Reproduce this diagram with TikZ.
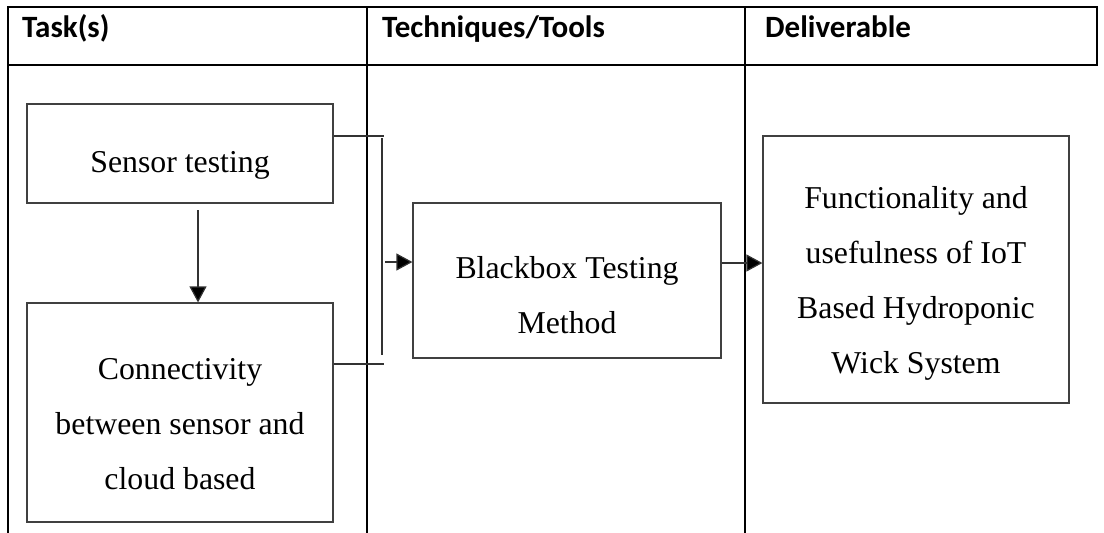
\documentclass[tikz,border=0pt]{standalone}
\usepackage{fontspec}
\setmainfont{Liberation Serif}
\newfontfamily\hdrfont{Carlito}
\usetikzlibrary{arrows.meta}
\begin{document}
\begin{tikzpicture}[x=1pt,y=-1pt,
  tbl/.style={line width=2pt,black},
  hdr/.style={anchor=base west,inner sep=0pt,font=\hdrfont\bfseries\fontsize{31}{36}\selectfont},
  box/.style={draw=black!75,line width=1.2pt,inner sep=0pt},
  txt/.style={align=center,inner sep=0pt,font=\fontsize{31.8}{55}\selectfont},
  conn/.style={draw=black!80,line width=1.2pt},
  arr/.style={conn,-{Triangle[length=16pt,width=17pt,fill=black]}}]
\useasboundingbox (0,0) rectangle (1104,533);
% table frame
\draw[tbl] (8,7) -- (1097,7);
\draw[tbl] (8,65) -- (1097,65);
\draw[tbl] (8,6) -- (8,533);
\draw[tbl] (367,6) -- (367,533);
\draw[tbl] (745,6) -- (745,533);
\draw[tbl] (1097,6) -- (1097,66);
% headers
\node[hdr] (h1) at (22,37) {Task(s)};
\node[hdr] (h2) at (382,37) {Techniques/Tools};
\node[hdr] (h3) at (765,37) {Deliverable};
% boxes
\node[box,minimum width=306pt,minimum height=99pt] (sensor) at (180,153.5) {};
\node[box,minimum width=306pt,minimum height=219pt] (connect) at (180,412.5) {};
\node[box,minimum width=308pt,minimum height=155pt] (bb) at (567,280.5) {};
\node[box,minimum width=306pt,minimum height=267pt] (del) at (916,269.5) {};
% box texts
\node[txt] (sensorT) at ([yshift=-12pt]sensor.center) {Sensor testing};
\node[txt] (connectT) at ([yshift=-12pt]connect.center) {Connectivity\\between sensor and\\cloud based};
\node[txt] (bbT) at ([yshift=-14.5pt]bb.center) {Blackbox Testing\\Method};
\node[txt] (delT) at ([yshift=-13.5pt]del.center) {Functionality and\\usefulness of IoT\\Based Hydroponic\\Wick System};
% connectors
\coordinate (dtop) at (198,210);
\draw[arr] (dtop) -- (dtop |- connect.north);
\coordinate (bt) at (384,136);
\coordinate (bb2) at (384,364);
\coordinate (vt) at (382,138);
\coordinate (vb) at (382,355);
\draw[conn] (sensor.east |- bt) -- (bt);
\draw[conn] (connect.east |- bb2) -- (bb2);
\draw[conn] (vt) -- (vb);
\coordinate (as) at (385,262);
\draw[arr] (as) -- (as -| bb.west);
\coordinate (as2) at (721,263);
\draw[arr] (bb.east |- as2) -- (as2 -| del.west);
\end{tikzpicture}
\end{document}
